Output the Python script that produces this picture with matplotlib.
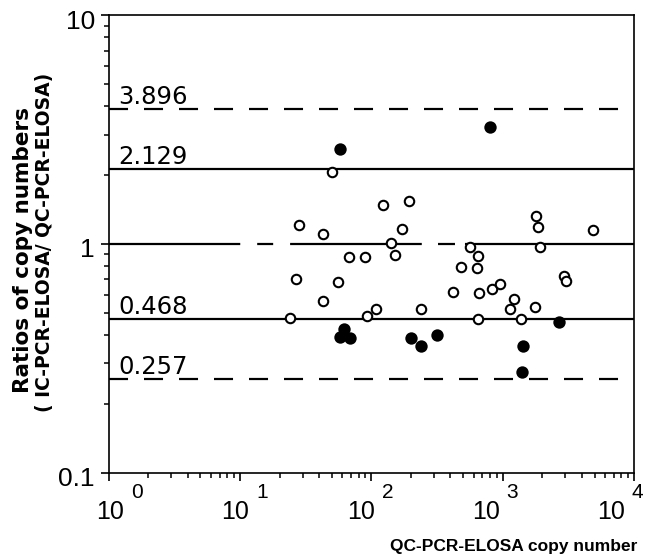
import numpy as np
import matplotlib.pyplot as plt
from matplotlib.ticker import FixedLocator, FixedFormatter, LogLocator, NullFormatter
from matplotlib.transforms import ScaledTranslation

plt.rcParams['font.family'] = ['Liberation Sans', 'DejaVu Sans']
plt.rcParams['lines.scale_dashes'] = False

# open circles (QC copy number, ratio)
open_x = [50.2, 28.1, 42.6, 67.7, 89.5, 122.8, 193.7, 170.4, 140.5, 150.2,
          559.8, 649.4, 1796, 1851, 1910, 4882, 482.3, 638.3, 26.9, 55.8,
          2935, 3040, 24.0, 42.9, 92.7, 108.6, 237, 419, 657.7, 830.5,
          947, 1139, 1221, 1369, 1750, 646.3]
open_y = [2.065, 1.208, 1.100, 0.876, 0.880, 1.485, 1.543, 1.164, 1.005, 0.894,
          0.973, 0.885, 1.323, 1.184, 0.965, 1.149, 0.792, 0.788, 0.705, 0.681,
          0.720, 0.691, 0.476, 0.563, 0.485, 0.521, 0.521, 0.618, 0.608, 0.637,
          0.666, 0.519, 0.574, 0.470, 0.531, 0.470]

# filled circles
filled_x = [57.3, 801.7, 61.4, 57.3, 68.6, 199.9, 237, 314.9, 1430, 1393, 2675]
filled_y = [2.596, 3.237, 0.426, 0.392, 0.387, 0.389, 0.359, 0.401, 0.359, 0.274, 0.457]

# reference lines
ref_values = [3.896, 2.129, 1.0, 0.468, 0.257]
ref_labels = ['3.896', '2.129', '', '0.468', '0.257']
ref_kinds = ['dashed', 'solid', 'mixed', 'solid', 'dashed']

xticks = [1, 10, 100, 1000, 10000]
xtick_base = ['10'] * 5
xtick_exp = ['0', '1', '2', '3', '4']
yticks = [0.1, 1, 10]
ytick_labels = ['0.1', '1', '10']

styles = {
    'dashed': (0, (13.7, 11.5)),
    'solid': '-',
    'mixed': (0, (94.5, 12.2, 11.5, 12.2, 94.8, 11.7, 12.2, 7.2, 121.7)),
}

fig = plt.figure(figsize=(6.47, 5.58), dpi=100)
ax = fig.add_axes([0.168, 0.153, 0.812, 0.820])
px = 0.72  # points per pixel

for val, lab, kind in zip(ref_values, ref_labels, ref_kinds):
    ax.axhline(val, color='black', lw=1.6, linestyle=styles[kind], zorder=1)
    if lab:
        ax.annotate(lab, xy=(0.019, val), xycoords=('axes fraction', 'data'),
                    xytext=(0, 5 * px), textcoords='offset points',
                    ha='left', va='baseline', fontsize=17.5, family='DejaVu Sans')

ax.plot(open_x, open_y, 'o', ms=6.8, mfc='white', mec='black', mew=1.5, zorder=3)
ax.plot(filled_x, filled_y, 'o', ms=7.6, mfc='black', mec='black', mew=1.3, zorder=3)

ax.set_xscale('log')
ax.set_yscale('log')
ax.set_xlim(1, 10000)
ax.set_ylim(0.1, 10)

ax.xaxis.set_major_locator(FixedLocator(xticks))
ax.xaxis.set_major_formatter(FixedFormatter(xtick_base))
ax.xaxis.set_minor_locator(LogLocator(base=10, subs=np.arange(2, 10)))
ax.xaxis.set_minor_formatter(NullFormatter())
ax.yaxis.set_major_locator(FixedLocator(yticks))
ax.yaxis.set_major_formatter(FixedFormatter(ytick_labels))
ax.yaxis.set_minor_locator(LogLocator(base=10, subs=np.arange(2, 10)))
ax.yaxis.set_minor_formatter(NullFormatter())

ax.tick_params(which='major', direction='out', length=6, width=1.2)
ax.tick_params(which='minor', direction='out', length=3.5, width=1.1)
ax.tick_params(axis='y', labelsize=19, pad=4)
ax.tick_params(axis='x', labelsize=18, pad=14)

# the old plot puts the "10" labels on a slightly tighter spacing than the ticks
for i, (lbl, tx, ex) in enumerate(zip(ax.get_xticklabels(), xticks, xtick_exp)):
    off = 1.6 - 6.2 * i
    lbl.set_transform(lbl.get_transform() + ScaledTranslation(off / 100, 0, fig.dpi_scale_trans))
    ax.annotate(ex, xy=(tx, 0), xycoords=('data', 'axes fraction'),
                xytext=((off + 21) * px, -10.5 * px), textcoords='offset points',
                ha='left', va='top', fontsize=15, annotation_clip=False)

for lbl in ax.get_yticklabels():
    lbl.set_transform(lbl.get_transform() + ScaledTranslation(0, -4 / 100, fig.dpi_scale_trans))

for sp in ax.spines.values():
    sp.set_linewidth(1.2)

ax.set_xlabel('QC-PCR-ELOSA copy number', fontsize=12.5, fontweight='bold', ha='right')
ax.xaxis.set_label_coords(1.006, -0.146)

# y label: two lines, the first one set wider in the original
fig.text(0.035, 0.552, 'Ratios of copy numbers', rotation=90, ha='center', va='center',
         fontsize=15.5, fontweight='bold', family='DejaVu Sans')
fig.text(0.069, 0.565, '( IC-PCR-ELOSA/ QC-PCR-ELOSA)', rotation=90, ha='center', va='center',
         fontsize=13.5, fontweight='bold', family='DejaVu Sans')

fig.savefig('out.png', dpi=100)
